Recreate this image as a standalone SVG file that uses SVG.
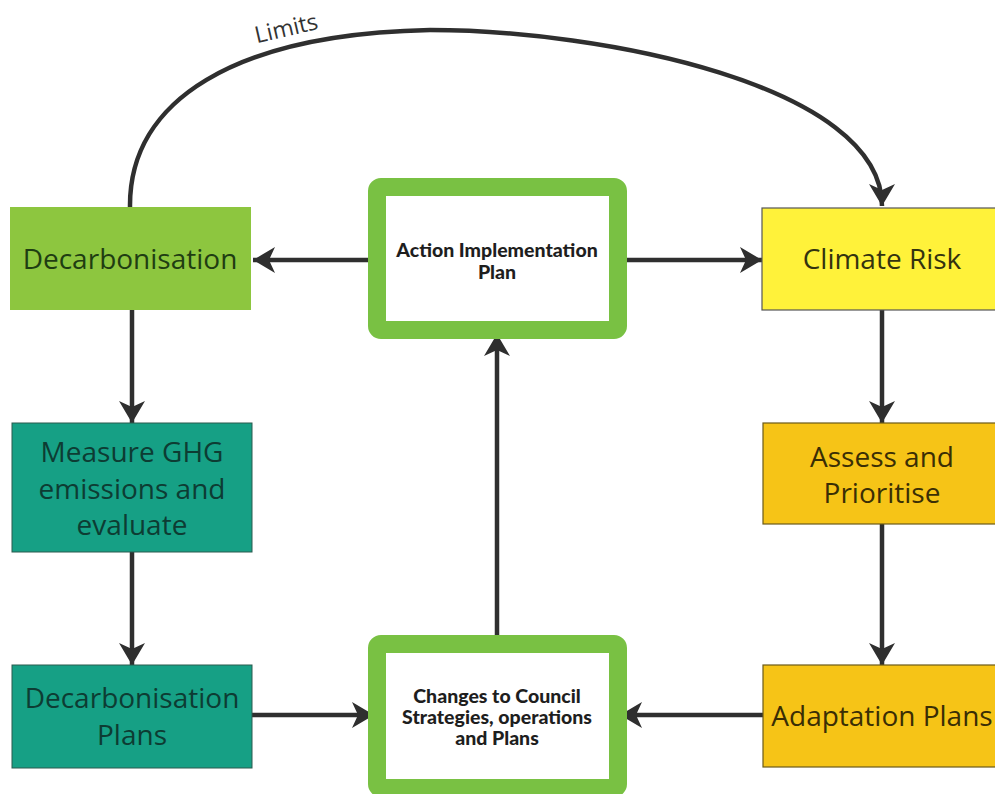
<svg xmlns="http://www.w3.org/2000/svg" width="995" height="794" viewBox="0 0 995 794">
<defs>
<style>
.lbl{font-family:"Open Sans","Noto Sans","Liberation Sans",sans-serif;font-size:28px;text-anchor:middle}
.ctr{font-family:Lato,"Liberation Sans",sans-serif;font-weight:900;font-size:19.5px;text-anchor:middle;fill:#1e1e1e}
.conn{fill:none;stroke:#2f2f2f;stroke-width:4.5}
.green{fill:#8dc63f}
.teal{fill:#16a085;stroke:#2a5a4e;stroke-width:1}
.yel{fill:#fff23a;stroke:#555;stroke-width:1.2}
.gold{fill:#f6c417;stroke:#6b5a1a;stroke-width:1.2}
.hub{fill:#fff;stroke:#79c143;stroke-width:18}
</style>
<marker id="ah" markerUnits="userSpaceOnUse" markerWidth="24" markerHeight="26" refX="22" refY="13" orient="auto">
<path d="M0,0 L22,13 L0,26 L6,13 Z" fill="#2f2f2f"/>
</marker>
</defs>
<rect width="995" height="794" fill="#ffffff"/>

<g id="connectors">
<path class="conn" d="M130,207 C129,100 235,34 430,30 C600,30 882,85 882,206" marker-end="url(#ah)"/>
<text x="0" y="0" transform="translate(288,36) rotate(-13)" font-family="'Open Sans','Noto Sans',sans-serif" font-size="23" fill="#333" text-anchor="middle">Limits</text>
<line class="conn" x1="376" y1="260" x2="253" y2="260" marker-end="url(#ah)"/>
<line class="conn" x1="618" y1="260" x2="762" y2="260" marker-end="url(#ah)"/>
<line class="conn" x1="132" y1="310" x2="132" y2="423" marker-end="url(#ah)"/>
<line class="conn" x1="132" y1="552" x2="132" y2="665" marker-end="url(#ah)"/>
<line class="conn" x1="252" y1="715" x2="374" y2="715" marker-end="url(#ah)"/>
<line class="conn" x1="763" y1="715" x2="620" y2="715" marker-end="url(#ah)"/>
<line class="conn" x1="497" y1="636" x2="497" y2="334" marker-end="url(#ah)"/>
<line class="conn" x1="882" y1="310" x2="882" y2="423" marker-end="url(#ah)"/>
<line class="conn" x1="882" y1="524" x2="882" y2="665" marker-end="url(#ah)"/>
</g>

<g id="decarbonisation">
<rect class="green" x="10" y="207" width="241" height="103"/>
<text class="lbl" x="130" y="269" fill="#1f3d12">Decarbonisation</text>
</g>

<g id="measure-ghg">
<rect class="teal" x="12" y="423" width="240" height="129"/>
<text class="lbl" fill="#0d3c33"><tspan x="132" y="462">Measure GHG</tspan><tspan x="132" y="499">emissions and</tspan><tspan x="132" y="535">evaluate</tspan></text>
</g>

<g id="decarbonisation-plans">
<rect class="teal" x="12" y="665" width="240" height="103"/>
<text class="lbl" fill="#0d3c33"><tspan x="132" y="708">Decarbonisation</tspan><tspan x="132" y="745">Plans</tspan></text>
</g>

<g id="action-plan">
<rect class="hub" x="377" y="187" width="241" height="143" rx="4"/>
<text class="ctr"><tspan x="497" y="257">Action Implementation</tspan><tspan x="497" y="279">Plan</tspan></text>
</g>

<g id="changes">
<rect class="hub" x="377" y="644" width="241" height="144" rx="4"/>
<text class="ctr"><tspan x="497" y="703">Changes to Council</tspan><tspan x="497" y="724">Strategies, operations</tspan><tspan x="497" y="745">and Plans</tspan></text>
</g>

<g id="climate-risk">
<rect class="yel" x="762" y="208" width="242" height="102"/>
<text class="lbl" x="882" y="269" fill="#33330f">Climate Risk</text>
</g>

<g id="assess">
<rect class="gold" x="763" y="423" width="241" height="101"/>
<text class="lbl" fill="#3a2e05"><tspan x="882" y="467">Assess and</tspan><tspan x="882" y="503">Prioritise</tspan></text>
</g>

<g id="adaptation-plans">
<rect class="gold" x="763" y="665" width="241" height="102"/>
<text class="lbl" x="882" y="726" fill="#3a2e05">Adaptation Plans</text>
</g>
</svg>
